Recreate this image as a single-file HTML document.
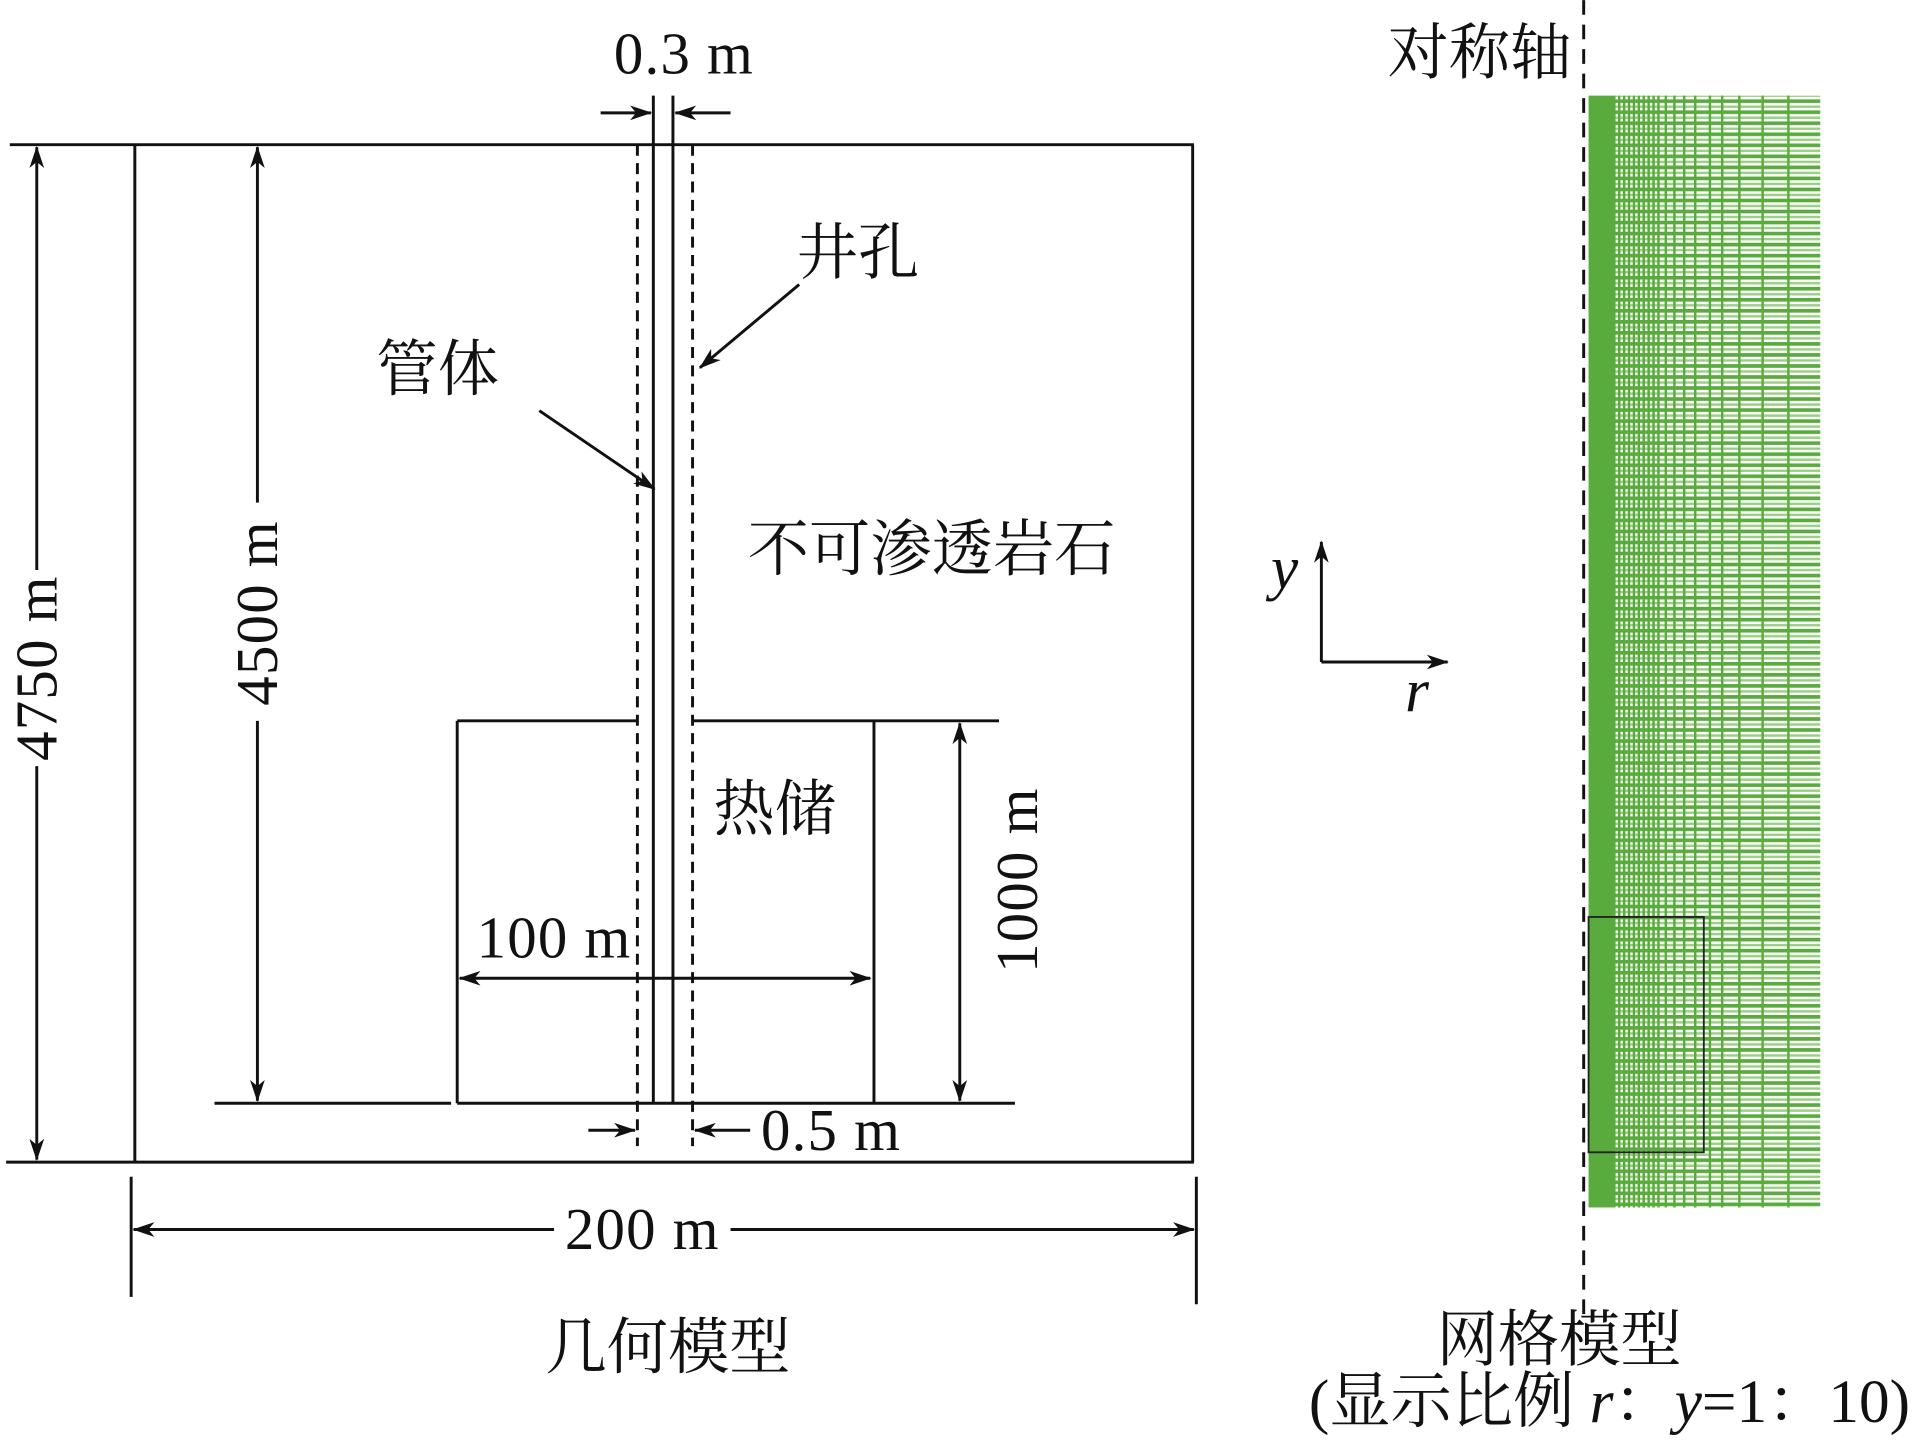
<!DOCTYPE html>
<html><head><meta charset="utf-8"><style>
html,body{margin:0;padding:0;background:#fff}
svg{display:block}
text{font-family:"Liberation Serif","Noto Serif CJK SC",serif;fill:#111}
</style></head><body>
<svg width="1922" height="1449" viewBox="0 0 1568 1182" xmlns="http://www.w3.org/2000/svg">
<defs>
<marker id="a" viewBox="0 0 18 12" refX="17" refY="6" markerWidth="18" markerHeight="12" markerUnits="userSpaceOnUse" orient="auto"><path d="M0,0 L18,6 L0,12 L5,6 z" fill="#111"/></marker>
<pattern id="hl" width="10" height="9" patternUnits="userSpaceOnUse"><rect width="10" height="9" fill="#fff"/><rect y="0" width="10" height="3" fill="#5aab3d"/><rect y="5" width="10" height="2" fill="#9ccf86"/></pattern>
</defs>
<g stroke="#111" stroke-width="2.4" fill="none">
<line x1="8" y1="118" x2="974" y2="118"/>
<line x1="5" y1="948" x2="974" y2="948"/>
<line x1="110" y1="118" x2="110" y2="948"/>
<line x1="973" y1="118" x2="973" y2="948"/>
<line x1="373" y1="588" x2="520" y2="588"/>
<line x1="565" y1="588" x2="815" y2="588"/>
<line x1="373" y1="588" x2="373" y2="900"/>
<line x1="713" y1="588" x2="713" y2="900"/>
<line x1="175" y1="900" x2="368" y2="900"/>
<line x1="373" y1="900" x2="828" y2="900"/>
<line x1="533" y1="78" x2="533" y2="900"/>
<line x1="549" y1="78" x2="549" y2="900"/>
<line x1="520" y1="118" x2="520" y2="935" stroke-dasharray="9,6"/>
<line x1="565" y1="118" x2="565" y2="935" stroke-dasharray="9,6"/>
<line x1="30" y1="465" x2="30" y2="120" marker-end="url(#a)"/>
<line x1="30" y1="625" x2="30" y2="946" marker-end="url(#a)"/>
<line x1="210" y1="410" x2="210" y2="120" marker-end="url(#a)"/>
<line x1="210" y1="588" x2="210" y2="898" marker-end="url(#a)"/>
<line x1="783" y1="744" x2="783" y2="590" marker-end="url(#a)"/>
<line x1="783" y1="744" x2="783" y2="898" marker-end="url(#a)"/>
<line x1="540" y1="798" x2="375" y2="798" marker-end="url(#a)"/>
<line x1="540" y1="798" x2="710" y2="798" marker-end="url(#a)"/>
<line x1="490" y1="92" x2="531" y2="92" marker-end="url(#a)"/>
<line x1="596" y1="92" x2="551" y2="92" marker-end="url(#a)"/>
<line x1="480" y1="922" x2="518" y2="922" marker-end="url(#a)"/>
<line x1="612" y1="922" x2="567" y2="922" marker-end="url(#a)"/>
<line x1="107" y1="960" x2="107" y2="1058"/>
<line x1="976" y1="960" x2="976" y2="1064"/>
<line x1="452" y1="1003" x2="109" y2="1003" marker-end="url(#a)"/>
<line x1="596" y1="1003" x2="974" y2="1003" marker-end="url(#a)"/>
<line x1="652" y1="232" x2="571" y2="300" marker-end="url(#a)"/>
<line x1="440" y1="335" x2="534" y2="399" marker-end="url(#a)"/>
<line x1="1078" y1="540" x2="1078" y2="442" marker-end="url(#a)"/>
<line x1="1078" y1="540" x2="1181" y2="540" marker-end="url(#a)"/>
<line x1="1292" y1="0" x2="1292" y2="1072" stroke-dasharray="12,8"/>
</g>
<rect x="1296" y="78" width="189" height="907" fill="url(#hl)"/>
<rect x="1296" y="78" width="22" height="907" fill="#5aab3d"/>
<g stroke="#5aab3d" stroke-width="2">
<line x1="1321" y1="78" x2="1321" y2="985"/><line x1="1325" y1="78" x2="1325" y2="985"/><line x1="1329" y1="78" x2="1329" y2="985"/><line x1="1333" y1="78" x2="1333" y2="985"/><line x1="1337" y1="78" x2="1337" y2="985"/><line x1="1341" y1="78" x2="1341" y2="985"/><line x1="1345" y1="78" x2="1345" y2="985"/><line x1="1349" y1="78" x2="1349" y2="985"/><line x1="1353" y1="78" x2="1353" y2="985"/><line x1="1359" y1="78" x2="1359" y2="985"/><line x1="1366" y1="78" x2="1366" y2="985"/><line x1="1374" y1="78" x2="1374" y2="985"/><line x1="1383" y1="78" x2="1383" y2="985"/><line x1="1395" y1="78" x2="1395" y2="985"/><line x1="1405" y1="78" x2="1405" y2="985"/><line x1="1419" y1="78" x2="1419" y2="985"/><line x1="1438" y1="78" x2="1438" y2="985"/><line x1="1459" y1="78" x2="1459" y2="985"/>
</g>
<rect x="1296" y="748" width="94" height="192" fill="none" stroke="#222" stroke-width="1.5"/>
<g font-size="48" letter-spacing="1">
<text x="558" y="60" text-anchor="middle">0.3 m</text>
<text x="678" y="938" text-anchor="middle">0.5 m</text>
<text x="452" y="781" text-anchor="middle">100 m</text>
<text x="524" y="1019" text-anchor="middle">200 m</text>
<text transform="translate(46,545) rotate(-90)" text-anchor="middle">4750 m</text>
<text transform="translate(226,500) rotate(-90)" text-anchor="middle">4500 m</text>
<text transform="translate(846,718) rotate(-90)" text-anchor="middle">1000 m</text>
</g>
<g font-size="50">
<text x="700" y="223" text-anchor="middle">井孔</text>
<text x="357" y="318" text-anchor="middle">管体</text>
<text x="760" y="465" text-anchor="middle">不可渗透岩石</text>
<text x="632" y="677" text-anchor="middle">热储</text>
<text x="545" y="1116" text-anchor="middle">几何模型</text>
<text x="1207" y="60" text-anchor="middle">对称轴</text>
<text x="1272" y="1110" text-anchor="middle">网格模型</text>
<text x="1313" y="1160" text-anchor="middle">(显示比例 <tspan font-style="italic">r</tspan>：<tspan font-style="italic">y</tspan>=1：10)</text>
<text x="1048" y="480" font-style="italic" text-anchor="middle">y</text>
<text x="1156" y="580" font-style="italic" text-anchor="middle">r</text>
</g>
</svg>
</body></html>
